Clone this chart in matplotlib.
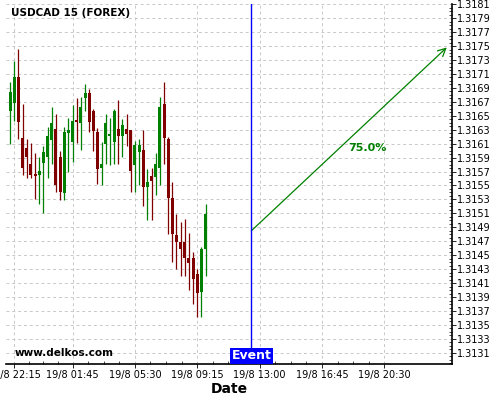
import numpy as np
import matplotlib
matplotlib.use("Agg")
from matplotlib import pyplot as plt

# 15 min candles, first one at 19/8 22:00 (bar index = position on x)
opens = [1.31657, 1.31669, 1.31705, 1.31617, 1.31604, 1.31580, 1.31566, 1.31565,
         1.31583, 1.31591, 1.31616, 1.31630, 1.31590, 1.31540, 1.31626, 1.31613,
         1.31643, 1.31640, 1.31676, 1.31682, 1.31657, 1.31627, 1.31575, 1.31610,
         1.31621, 1.31613, 1.31631, 1.31621, 1.31631, 1.31629, 1.31580, 1.31598,
         1.31601, 1.31548, 1.31563, 1.31563, 1.31575, 1.31666, 1.31616, 1.31532,
         1.31479, 1.31469, 1.31468, 1.31446, 1.31446, 1.31423, 1.31397, 1.31459]
highs = [1.31699, 1.31729, 1.31746, 1.31667, 1.31617, 1.31611, 1.31597, 1.31591,
         1.31606, 1.31634, 1.31662, 1.31652, 1.31600, 1.31634, 1.31647, 1.31665,
         1.31675, 1.31677, 1.31695, 1.31688, 1.31659, 1.31633, 1.31613, 1.31652,
         1.31647, 1.31659, 1.31672, 1.31646, 1.31653, 1.31630, 1.31614, 1.31616,
         1.31629, 1.31573, 1.31575, 1.31597, 1.31677, 1.31699, 1.31620, 1.31555,
         1.31509, 1.31498, 1.31502, 1.31482, 1.31455, 1.31430, 1.31462, 1.31524]
lows = [1.31610, 1.31642, 1.31616, 1.31565, 1.31561, 1.31561, 1.31531, 1.31524,
        1.31511, 1.31561, 1.31581, 1.31540, 1.31529, 1.31529, 1.31570, 1.31583,
        1.31611, 1.31601, 1.31657, 1.31627, 1.31600, 1.31552, 1.31551, 1.31581,
        1.31580, 1.31581, 1.31581, 1.31591, 1.31607, 1.31540, 1.31541, 1.31550,
        1.31521, 1.31501, 1.31501, 1.31537, 1.31550, 1.31581, 1.31481, 1.31440,
        1.31430, 1.31420, 1.31420, 1.31400, 1.31380, 1.31361, 1.31361, 1.31420]
closes = [1.31683, 1.31705, 1.31642, 1.31575, 1.31591, 1.31565, 1.31564, 1.31571,
          1.31597, 1.31621, 1.31639, 1.31551, 1.31541, 1.31627, 1.31629, 1.31642,
          1.31641, 1.31662, 1.31682, 1.31642, 1.31629, 1.31574, 1.31581, 1.31639,
          1.31624, 1.31657, 1.31621, 1.31636, 1.31624, 1.31571, 1.31607, 1.31608,
          1.31548, 1.31555, 1.31557, 1.31580, 1.31662, 1.31619, 1.31532, 1.31481,
          1.31469, 1.31460, 1.31446, 1.31439, 1.31417, 1.31396, 1.31459, 1.31509]

tick_pos = [1, 15, 30, 45, 60, 75, 90]
tick_labels = ["19/8 22:15", "19/8 01:45", "19/8 05:30", "19/8 09:15",
               "19/8 13:00", "19/8 16:45", "19/8 20:30"]

event_bar = 58
arrow_start = (58, 1.31485)
arrow_end = (105, 1.31748)
pct_text = "75.0%"
pct_pos = (86, 1.31604)

green = "#008000"
red = "#800000"

fig = plt.figure(figsize=(5, 4), dpi=100)
ax = fig.add_axes([0.012, 0.09, 0.8915, 0.8995])

x = np.arange(len(opens))
o = np.array(opens)
c = np.array(closes)
up = c >= o
cols = np.where(up, green, red)

ax.vlines(x, lows, highs, colors=cols, linewidth=0.9, zorder=3)
ax.bar(x, np.abs(c - o) + 0.000008, bottom=np.minimum(o, c) - 0.000004,
       width=0.72, color=cols, edgecolor=cols, linewidth=0, zorder=4)

ax.axvline(event_bar, color="blue", linewidth=1, zorder=5)
ax.annotate("", xy=arrow_end, xytext=arrow_start,
            arrowprops=dict(arrowstyle="->", color=green, lw=0.9,
                            mutation_scale=14, shrinkA=0, shrinkB=0))
ax.text(pct_pos[0], pct_pos[1], pct_text, color=green, fontsize=8,
        fontweight="bold", ha="center", va="center")

ax.set_xlim(-1, 106.2)
ax.set_ylim(1.31294, 1.3181)

ax.set_xticks(tick_pos)
ax.set_xticklabels(tick_labels, fontsize=7)
minor = []
for a, b in zip(tick_pos[:-1], tick_pos[1:]):
    minor += list(np.linspace(a, b, 5)[1:-1])
ax.set_xticks(minor, minor=True)

yt = np.arange(1.3131, 1.31815, 0.0002)
ax.set_yticks(yt)
ax.set_yticklabels(["%.4f" % v for v in yt], fontsize=7)
ax.set_yticks(np.arange(1.31295, 1.3181, 0.00005), minor=True)
ax.yaxis.tick_right()
ax.tick_params(axis="both", which="major", length=3, width=0.6, pad=1)
ax.tick_params(axis="both", which="minor", length=2, width=0.5, direction="in")

ax.grid(True, which="major", color="#c8c8c8", linestyle=(0, (3, 3)), linewidth=0.7)
ax.set_axisbelow(True)
for s in ["left", "top"]:
    ax.spines[s].set_visible(False)
for s in ["right", "bottom"]:
    ax.spines[s].set_linewidth(1.2)

ax.set_xlabel("Date", fontsize=10, fontweight="bold", labelpad=2)

ax.text(0.012, 0.975, "USDCAD 15 (FOREX)", transform=ax.transAxes,
        fontsize=7.5, fontweight="bold", va="center", ha="left")
ax.text(0.02, 0.03, "www.delkos.com", transform=ax.transAxes,
        fontsize=7.5, fontweight="bold", va="center", ha="left")
ax.text(event_bar, 0.0225, "Event", transform=ax.get_xaxis_transform(),
        color="white", fontsize=9, fontweight="bold", ha="center", va="center",
        bbox=dict(boxstyle="square,pad=0.15", facecolor="blue", edgecolor="none"),
        zorder=6)

fig.savefig("out.png", dpi=100)
